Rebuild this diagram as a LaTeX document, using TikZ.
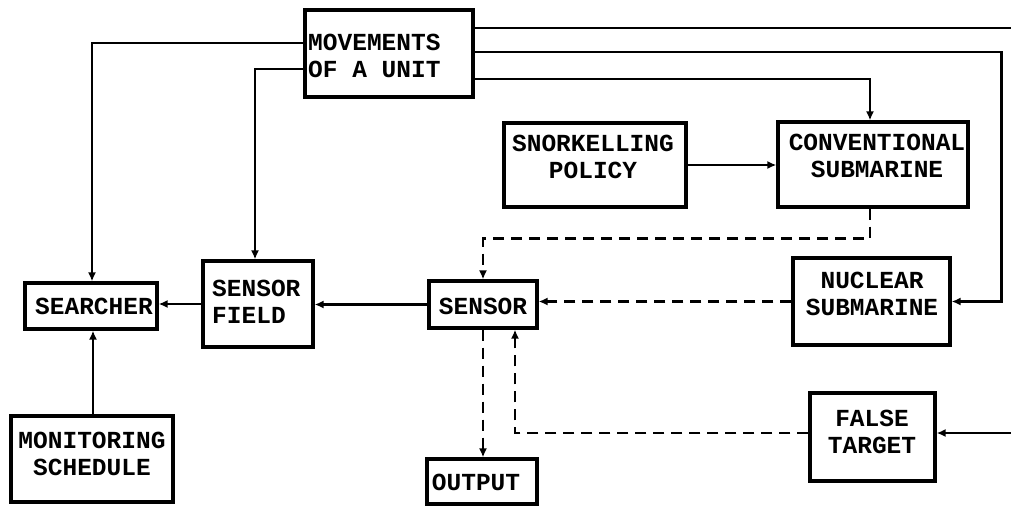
\documentclass[tikz,border=0pt]{standalone}
\usepackage{fontspec}
\setmainfont{Liberation Mono}
\usetikzlibrary{arrows.meta,calc}
\begin{document}
\begin{tikzpicture}[x=1pt,y=-1pt,
  box/.style={draw,line width=3.2pt,inner sep=0pt,rectangle},
  lbl/.style={font=\fontsize{24.5}{27}\selectfont\bfseries,inner sep=0pt,align=center},
  conn/.style={line width=2.3pt},
  arr/.style={conn,-{Latex[length=9pt,width=8pt]}},
  darr/.style={arr,dash pattern=on 11pt off 7pt},
  dline/.style={conn,dash pattern=on 11pt off 7pt}]
\useasboundingbox (0,0) rectangle (1011,507);
% boxes
\node[box,minimum width=168pt,minimum height=87pt] (mov) at (389,53.5) {};
\node[lbl,anchor=west,align=left] (movT) at (308,55.5) {MOVEMENTS\\OF A UNIT};
\node[box,minimum width=182pt,minimum height=84pt] (snork) at (595,165) {};
\node[lbl] (snorkT) at (593,156.5) {SNORKELLING\\POLICY};
\node[box,minimum width=190pt,minimum height=85pt] (conv) at (873,164.5) {};
\node[lbl] (convT) at (877,156) {CONVENTIONAL\\SUBMARINE};
\node[box,minimum width=132pt,minimum height=46pt] (searcher) at (91,306) {};
\node[lbl] (searcherT) at (94,306) {SEARCHER};
\node[box,minimum width=110pt,minimum height=86pt] (sfield) at (258,304) {};
\node[lbl,anchor=west,align=left] (sfieldT) at (212,301.5) {SENSOR\\FIELD};
\node[box,minimum width=108pt,minimum height=47pt] (sensor) at (483,304.5) {};
\node[lbl] (sensorT) at (483,306) {SENSOR};
\node[box,minimum width=157pt,minimum height=87pt] (nuc) at (871.5,301.5) {};
\node[lbl] (nucT) at (872,294) {NUCLEAR\\SUBMARINE};
\node[box,minimum width=125pt,minimum height=88pt] (ft) at (872.5,437) {};
\node[lbl] (ftT) at (872,431.5) {FALSE\\TARGET};
\node[box,minimum width=162pt,minimum height=86pt] (mon) at (92,459) {};
\node[lbl] (monT) at (92,454) {MONITORING\\SCHEDULE};
\node[box,minimum width=110pt,minimum height=45pt] (output) at (482,481.5) {};
\node[lbl] (outputT) at (476,482) {OUTPUT};
% free ends
\coordinate (edgeTop) at (1011,28);
\coordinate (edgeBot) at (1011,433);
% connectors
\draw[arr] ([yshift=10.5pt]mov.west) -| ([xshift=1pt]searcher.north);
\draw[arr] ([yshift=-15.5pt]mov.west) -| ([xshift=-3pt]sfield.north);
\draw[conn] ([yshift=25.5pt]mov.east) -- (edgeTop);
\draw[arr] ([yshift=1.5pt]mov.east) -| ([xshift=50pt]nuc.east) -- (nuc.east);
\draw[arr] ([yshift=-25.5pt]mov.east) -| ([xshift=-3pt]conv.north);
\draw[arr] (snork.east) -- (snork.east -| conv.west);
\draw[darr] ([xshift=-3pt]conv.south) -- ++(0,30) -| (sensor.north);
\draw[darr] (nuc.west) -- (nuc.west -| sensor.east);
\draw[arr] (sensor.west) -- (sensor.west -| sfield.east);
\draw[arr] (sfield.west) -- (sfield.west -| searcher.east);
\draw[arr] ([xshift=1pt]mon.north) -- ([xshift=1pt]mon.north |- searcher.south);
\draw[darr] (sensor.south) -- (sensor.south |- output.north);
\draw[darr] ([yshift=4pt]ft.west) -| ([xshift=32pt]sensor.south);
\draw[arr] (edgeBot) -- (edgeBot -| ft.east);
\end{tikzpicture}
\end{document}
